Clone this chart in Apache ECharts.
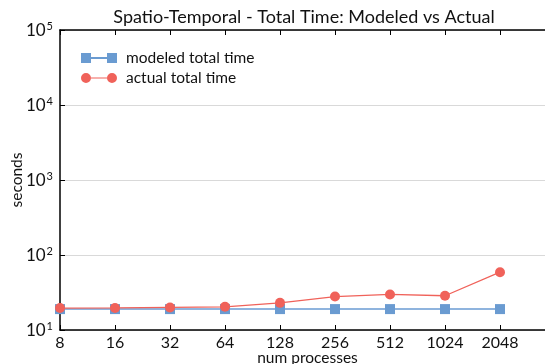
<!DOCTYPE html>
<html>
<head>
<meta charset="utf-8">
<script src="https://cdn.jsdelivr.net/npm/echarts@6/dist/echarts.min.js"></script>
<style>
  html, body { margin: 0; padding: 0; background: #fff; }
</style>
</head>
<body>
<div id="chart" style="width: 545px; height: 364px;"></div>
<script>
  // categories (last one is the unlabeled end of the axis, off the right edge)
  let procs = ['8', '16', '32', '64', '128', '256', '512', '1024', '2048', '']
  let modeled = [19, 19, 19, 19, 19, 19, 19, 19, 19]
  let actual = [19.6, 19.7, 20, 20.4, 23, 27.9, 29.8, 28.6, 59]
  let yTicks = [10, 100, 1000, 10000, 100000]

  let font = 'Lato'

  let options = {
    animation: false,
    title: {
      text: 'Spatio-Temporal - Total Time: Modeled vs Actual',
      left: 299,
      textAlign: 'center',
      top: 3,
      textStyle: {fontFamily: font, fontSize: 18, fontWeight: 'normal', color: '#111'}
    },
    legend: {
      orient: 'vertical',
      left: 76,
      top: 45,
      itemWidth: 36,
      itemHeight: 10,
      itemGap: 4,
      data: [
        {name: 'modeled total time', icon: 'path://M0,0h10v10h-10z M10,4h16v2h-16z M26,0h10v10h-10z'},
        {name: 'actual total time', icon: 'path://M0,5a5,5 0 1,0 10,0a5,5 0 1,0 -10,0z M10,4.4h16v1.2h-16z M26,5a5,5 0 1,0 10,0a5,5 0 1,0 -10,0z'}
      ],
      textStyle: {fontFamily: font, fontSize: 15.5, color: '#111', padding: [0, 0, 0, 4]}
    },
    // plot runs past the right edge, as in the original figure
    grid: {left: 60, width: 495, top: 30, bottom: 34, outerBoundsMode: 'none'},
    xAxis: [{
      type: 'category',
      boundaryGap: false,
      data: procs,
      name: 'num processes',
      nameLocation: 'middle',
      nameGap: 20,
      nameMoveOverlap: false,
      nameTextStyle: {fontFamily: font, fontSize: 15.5, color: '#111'},
      axisLine: {lineStyle: {color: '#000', width: 1.5}},
      axisTick: {inside: true, length: 5, lineStyle: {color: '#000'}},
      axisLabel: {fontFamily: font, fontSize: 16, color: '#111', margin: 5},
      splitLine: {show: false}
    }, {
      type: 'category',
      position: 'top',
      boundaryGap: false,
      data: procs,
      axisLine: {lineStyle: {color: '#000', width: 1.5}},
      axisTick: {inside: true, length: 5, lineStyle: {color: '#000'}},
      axisLabel: {show: false},
      splitLine: {show: false}
    }],
    yAxis: {
      type: 'log',
      logBase: 10,
      min: yTicks[0],
      max: yTicks[yTicks.length - 1],
      name: 'seconds',
      nameLocation: 'middle',
      nameGap: 35,
      nameMoveOverlap: false,
      nameTextStyle: {fontFamily: font, fontSize: 15.5, color: '#111'},
      axisLine: {show: true, lineStyle: {color: '#000', width: 1.5}},
      axisTick: {show: true, inside: true, length: 5, lineStyle: {color: '#000'}},
      splitLine: {show: true, lineStyle: {color: '#d9d9d9', width: 1}},
      axisLabel: {
        margin: 7,
        formatter: function (v) {
          return '{b|10}{s|' + Math.round(Math.log10(v)) + '}'
        },
        rich: {
          b: {fontFamily: font, fontSize: 17, color: '#111', lineHeight: 18, verticalAlign: 'bottom'},
          s: {fontFamily: font, fontSize: 11, color: '#111', lineHeight: 18, verticalAlign: 'top', padding: [0, 0, 7, 1]}
        }
      }
    },
    series: [
      {
        name: 'modeled total time',
        type: 'line',
        data: modeled,
        symbol: 'rect',
        symbolSize: 10,
        color: '#6a9bd1',
        lineStyle: {color: '#8fb4de', width: 2},
        itemStyle: {color: '#6a9bd1'},
        z: 2
      },
      {
        name: 'actual total time',
        type: 'line',
        data: actual,
        symbol: 'circle',
        symbolSize: 10,
        color: '#f0625a',
        lineStyle: {color: '#f0625a', width: 1.3},
        itemStyle: {color: '#f0625a'},
        z: 3
      }
    ]
  }

  let mychart = echarts.init(document.getElementById('chart'))
  mychart.setOption(options)
</script>
</body>
</html>
